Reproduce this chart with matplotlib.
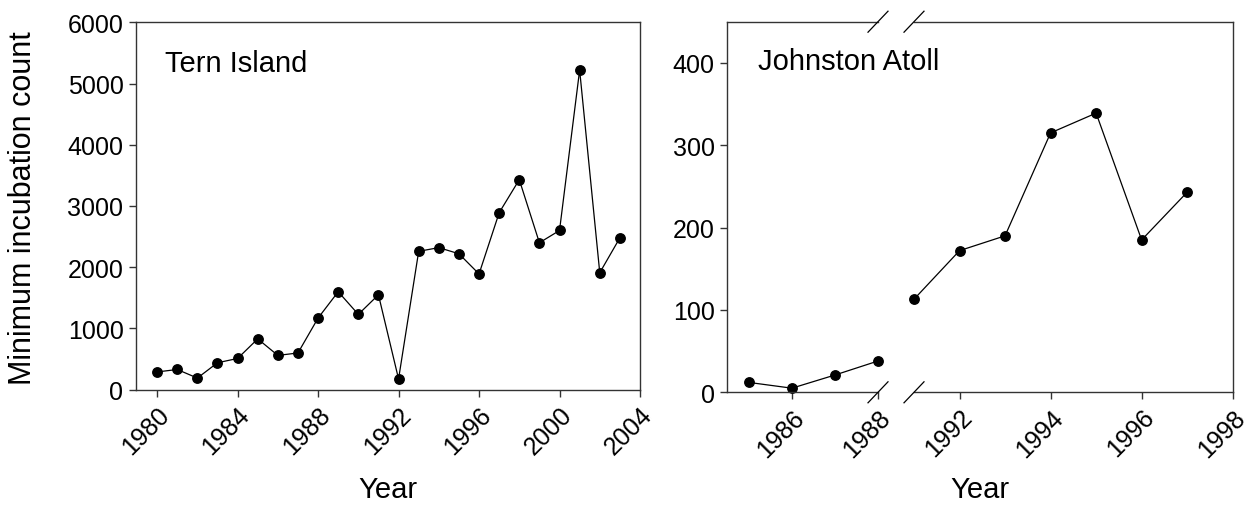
import matplotlib
matplotlib.use("Agg")
import matplotlib.pyplot as plt
from matplotlib.lines import Line2D

plt.rcParams['font.family'] = ['Liberation Sans', 'DejaVu Sans']

# Tern Island counts
ternYears = list(range(1980, 2004))
ternCounts = [290, 330, 190, 440, 510, 830, 560, 600, 1170, 1600, 1230, 1550,
              175, 2260, 2320, 2220, 1890, 2890, 3430, 2400, 2600, 5220, 1910, 2480]

# Johnston Atoll counts, split by the axis break
johnYearsEarly = [1985, 1986, 1987, 1988]
johnCountsEarly = [12, 5, 21, 38]
johnYearsLate = [1991, 1992, 1993, 1994, 1995, 1996, 1997]
johnCountsLate = [113, 172, 190, 315, 339, 185, 243]

ternTicks = [1980, 1984, 1988, 1992, 1996, 2000, 2004]
johnTicksEarly = [1986, 1988]
johnTicksLate = [1992, 1994, 1996, 1998]

W, H = 1247, 506
fig = plt.figure(figsize=(W / 100, H / 100), dpi=100)

spineColor = '#333333'
tickSize = 18
labelSize = 21
titleSize = 21
ms = 6.8

def styleAxes(ax):
    for s in ax.spines.values():
        s.set_color(spineColor)
        s.set_linewidth(1.0)
    ax.tick_params(direction='out', length=5, width=1, color=spineColor,
                   labelsize=tickSize, pad=4)

def rotTicks(ax):
    for lab in ax.get_xticklabels():
        lab.set_rotation(45)
        lab.set_ha('right')
        lab.set_rotation_mode('anchor')

def pos(x0, x1, ytop, ybot):
    return [x0 / W, 1 - ybot / H, (x1 - x0) / W, (ybot - ytop) / H]

# left panel
ax1 = fig.add_axes(pos(136, 640, 23.3, 390.7))
ax1.plot(ternYears, ternCounts, color='black', lw=0.9, marker='o', ms=ms, clip_on=False)
ax1.set_xlim(1978.95, 2004)
ax1.set_ylim(0, 6000)
ax1.set_xticks(ternTicks)
ax1.set_yticks(range(0, 6001, 1000))
styleAxes(ax1)
rotTicks(ax1)
fig.text(23 / W, 1 - 208 / H, 'Minimum incubation count', fontsize=22,
         rotation=90, ha='center', va='center')
fig.text(165 / W, 1 - 72 / H, 'Tern Island', fontsize=titleSize, va='baseline')
fig.text(388 / W, 1 - 498 / H, 'Year', fontsize=labelSize, ha='center', va='baseline')

# right panel, broken x axis
axA = fig.add_axes(pos(727.3, 878, 22.7, 393.3))
axB = fig.add_axes(pos(914, 1232.7, 22.7, 393.3))
axA.plot(johnYearsEarly, johnCountsEarly, color='black', lw=0.9, marker='o', ms=ms, clip_on=False)
axB.plot(johnYearsLate, johnCountsLate, color='black', lw=0.9, marker='o', ms=ms, clip_on=False)
axA.set_xlim(1984.5, 1988)
axB.set_xlim(1991, 1998)
for ax in (axA, axB):
    ax.set_ylim(0, 450)
    styleAxes(ax)
axA.set_xticks(johnTicksEarly)
axB.set_xticks(johnTicksLate)
axA.set_yticks(range(0, 401, 100))
axB.set_yticks([])
axA.spines['right'].set_visible(False)
axB.spines['left'].set_visible(False)
rotTicks(axA)
rotTicks(axB)
fig.text(758 / W, 1 - 70 / H, 'Johnston Atoll', fontsize=titleSize, va='baseline')
fig.text(980 / W, 1 - 498 / H, 'Year', fontsize=labelSize, ha='center', va='baseline')

# break marks
for xc in (878, 914):
    for yc in (22.7, 393.3):
        fig.add_artist(Line2D([(xc - 10) / W, (xc + 10) / W],
                              [1 - (yc + 10.5) / H, 1 - (yc - 10.5) / H],
                              transform=fig.transFigure, color='black', lw=0.9))

fig.savefig('out.png', dpi=100)
